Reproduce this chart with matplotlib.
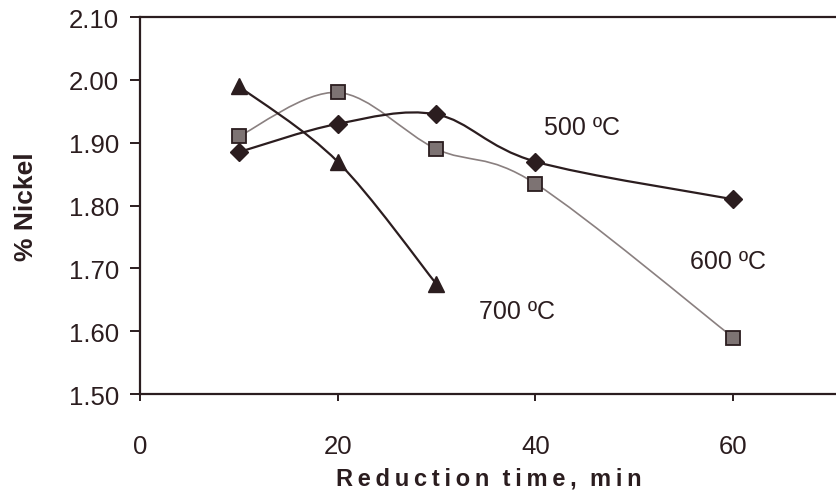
import matplotlib.pyplot as plt
import numpy as np
from matplotlib.path import Path
from matplotlib.patches import PathPatch

plt.rcParams['font.family'] = ['Liberation Sans', 'DejaVu Sans']

# reduction time (min) and nickel content (%) at each temperature
time_500 = [10, 20, 30, 40, 60]
nickel_500 = [1.885, 1.93, 1.945, 1.87, 1.81]
time_600 = [10, 20, 30, 40, 60]
nickel_600 = [1.91, 1.98, 1.89, 1.835, 1.59]
time_700 = [10, 20, 30]
nickel_700 = [1.99, 1.87, 1.675]

INK = '#2b1d1f'
TS = '\u2009'  # thin space for the spaced-out axis title


def smooth_path(x, y):
    # Bezier path through the points, Catmull-Rom style tangents (like a spreadsheet "smoothed line")
    p = np.column_stack([x, y]).astype(float)
    n = len(p)
    verts = [p[0]]
    codes = [Path.MOVETO]
    for i in range(n - 1):
        p0 = p[i - 1] if i > 0 else p[i]
        p3 = p[i + 2] if i + 2 < n else p[i + 1]
        c1 = p[i] + (p[i + 1] - p0) / 6.0
        c2 = p[i + 1] - (p3 - p[i]) / 6.0
        verts += [c1, c2, p[i + 1]]
        codes += [Path.CURVE4] * 3
    return Path(verts, codes)


def spaced(s):
    return '  '.join(TS.join(w) for w in s.split(' '))


fig = plt.figure(figsize=(8.37, 5.02), dpi=100)
ax = fig.add_axes([0.167, 0.213, 0.833, 0.751])

ax.add_patch(PathPatch(smooth_path(time_600, nickel_600), fill=False, ec='#8a8080', lw=1.2, zorder=2))
ax.add_patch(PathPatch(smooth_path(time_500, nickel_500), fill=False, ec=INK, lw=1.6, zorder=3))
ax.add_patch(PathPatch(smooth_path(time_700, nickel_700), fill=False, ec=INK, lw=1.6, zorder=3))

ax.plot(time_600, nickel_600, ls='none', marker='s', ms=10, mfc='#7d7373', mec=INK, mew=1.3, zorder=4)
ax.plot(time_500, nickel_500, ls='none', marker='D', ms=9, mfc=INK, mec=INK, zorder=4)
ax.plot(time_700, nickel_700, ls='none', marker='^', ms=11, mfc=INK, mec=INK, zorder=4)

ax.text(44.7, 1.925, '500 ºC', fontsize=18, color=INK, ha='center', va='center')
ax.text(59.5, 1.712, '600 ºC', fontsize=18, color=INK, ha='center', va='center')
ax.text(38.1, 1.633, '700 ºC', fontsize=18, color=INK, ha='center', va='center')

ax.set_xlim(0, 70.5)
ax.set_ylim(1.50, 2.10)
ax.set_xticks([0, 20, 40, 60])
ax.set_yticks(np.arange(1.50, 2.101, 0.10))
ax.yaxis.set_major_formatter(plt.FormatStrFormatter('%.2f'))

ax.spines['right'].set_visible(False)
for s in ('left', 'bottom', 'top'):
    ax.spines[s].set_color(INK)
    ax.spines[s].set_linewidth(1.6)

ax.tick_params(axis='y', direction='out', length=7, width=1.4, colors=INK, labelsize=18.5, pad=8)
ax.tick_params(axis='x', direction='out', length=5, width=1.4, colors=INK, labelsize=18.5, pad=24)

ax.set_xlabel(spaced('Reduction time, min'), fontsize=17, fontweight='bold', color=INK, labelpad=6)
ax.set_ylabel('% Nickel', fontsize=19, fontweight='bold', color=INK, labelpad=22)

fig.savefig('out.png', dpi=100)
